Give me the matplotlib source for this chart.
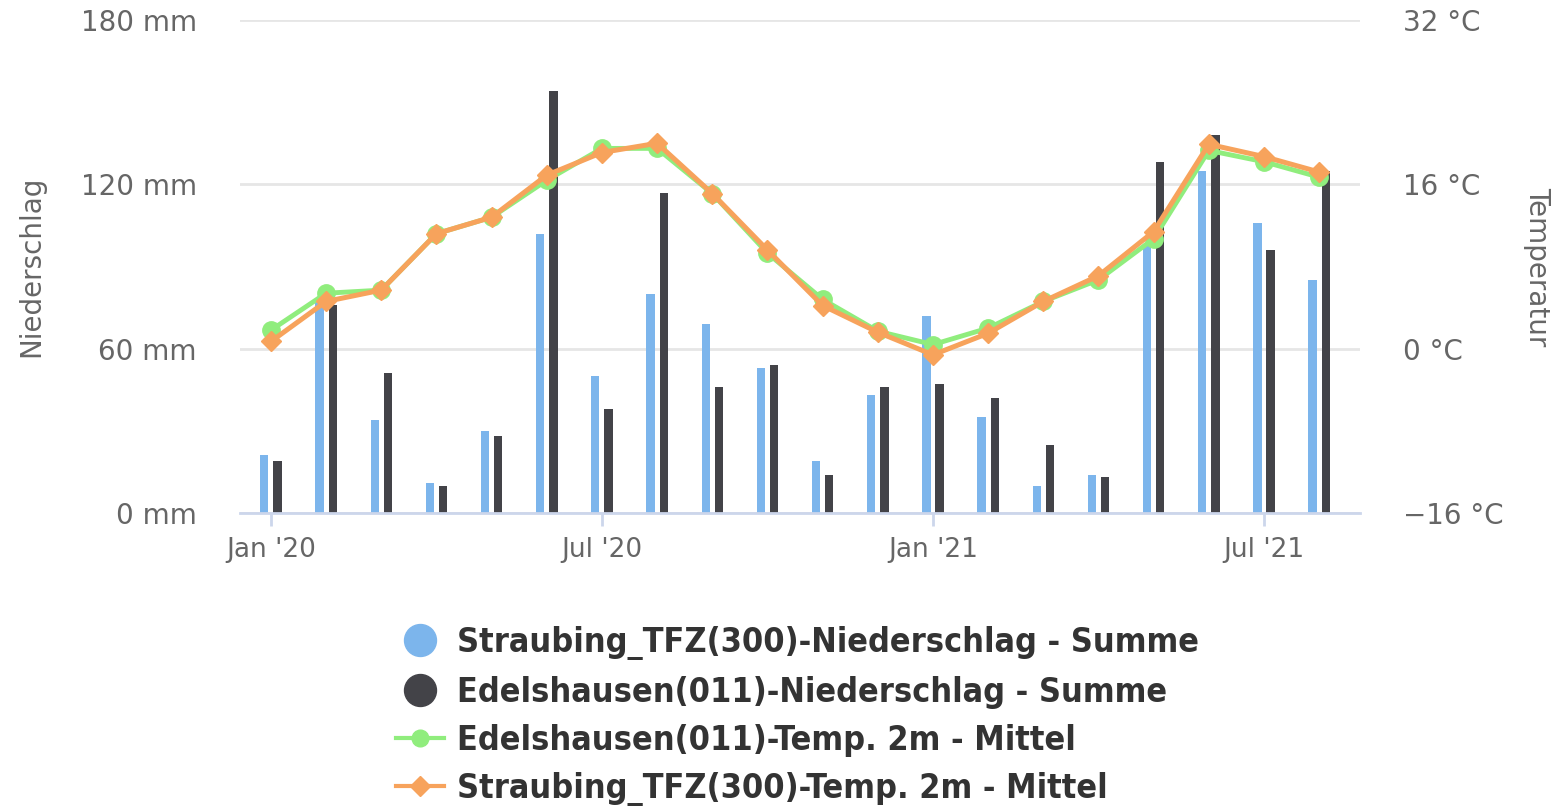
import matplotlib
matplotlib.use("Agg")
import matplotlib.pyplot as plt
import numpy as np
from matplotlib.lines import Line2D

# Monatswerte Jan '20 .. Aug '21
months = ["Jan '20", "Feb '20", "Mar '20", "Apr '20", "May '20", "Jun '20",
          "Jul '20", "Aug '20", "Sep '20", "Oct '20", "Nov '20", "Dec '20",
          "Jan '21", "Feb '21", "Mar '21", "Apr '21", "May '21", "Jun '21",
          "Jul '21", "Aug '21"]
tick_labels = ["Jan '20", "Jul '20", "Jan '21", "Jul '21"]
tick_idx = [0, 6, 12, 18]

rain_straubing = [21, 77, 34, 11, 30, 102, 50, 80, 69, 53,
                  19, 43, 72, 35, 10, 14, 98, 125, 106, 85]
rain_edelshausen = [19, 76, 51, 10, 28, 154, 38, 117, 46, 54,
                    14, 46, 47, 42, 25, 13, 128, 138, 96, 125]
temp_edelshausen = [1.8, 5.4, 5.7, 11.2, 12.8, 16.4, 19.5, 19.5, 15.1, 9.3,
                    4.8, 1.7, 0.4, 2.0, 4.6, 6.7, 10.7, 19.3, 18.2, 16.7]
temp_straubing = [0.7, 4.6, 5.7, 11.2, 12.8, 16.9, 19.1, 20.0, 15.1, 9.6,
                  4.2, 1.6, -0.6, 1.5, 4.6, 7.1, 11.4, 19.9, 18.7, 17.2]

BLUE = "#7cb5ec"
DARK = "#434348"
GREEN = "#90ed7d"
ORANGE = "#f7a35c"
GREY = "#666666"

fig = plt.figure(figsize=(15.55, 8.07), dpi=100)
ax = fig.add_axes([0.1543, 0.3643, 0.7203, 0.6109])
ax2 = ax.twinx()

x = np.arange(len(months))
w = 0.15
off = 0.12
ax.bar(x - off, rain_straubing, width=w, color=BLUE, zorder=2)
ax.bar(x + off, rain_edelshausen, width=w, color=DARK, zorder=2)

ax2.plot(x, temp_edelshausen, color=GREEN, lw=3.5, marker="o", ms=12.5, zorder=3)
ax2.plot(x, temp_straubing, color=ORANGE, lw=3.6, marker="D", ms=10.5, zorder=4)

ax.set_xlim(-0.562, 19.74)
ax.set_ylim(0, 180)
ax2.set_ylim(-16, 32)
ax.set_yticks([0, 60, 120, 180])
ax.set_yticklabels([f"{v} mm" for v in (0, 60, 120, 180)])
ax2.set_yticks([-16, 0, 16, 32])
ax2.set_yticklabels(["\u221216 °C", "0 °C", "16 °C", "32 °C"])
ax.set_xticks(tick_idx)
ax.set_xticklabels(tick_labels)

ax.grid(axis="y", color="#e6e6e6", lw=2, zorder=0)
ax.set_axisbelow(True)
for a in (ax, ax2):
    for s in ("top", "left", "right", "bottom"):
        a.spines[s].set_visible(False)
ax.spines["bottom"].set_visible(True)
ax.spines["bottom"].set_color("#ccd6eb")
ax.spines["bottom"].set_linewidth(2)

ax.tick_params(axis="x", colors="#ccd6eb", length=9, width=2, pad=8,
               labelcolor=GREY, labelsize=19)
ax.tick_params(axis="y", length=0, pad=31, labelcolor=GREY, labelsize=20)
ax2.tick_params(axis="y", length=0, pad=31, labelcolor=GREY, labelsize=20)

ax.set_ylabel("Niederschlag", color=GREY, fontsize=20, va="center")
ax2.set_ylabel("Temperatur", color=GREY, fontsize=20, rotation=270, va="center")
ax.yaxis.set_label_coords(-0.186, 0.5)
ax2.yaxis.set_label_coords(1.158, 0.5)

handles = [
    Line2D([], [], color=BLUE, marker="o", ms=23, lw=0),
    Line2D([], [], color=DARK, marker="o", ms=23, lw=0),
    Line2D([], [], color=GREEN, marker="o", ms=12, lw=3),
    Line2D([], [], color=ORANGE, marker="D", ms=10, lw=3),
]
labels = ["Straubing_TFZ(300)-Niederschlag - Summe",
          "Edelshausen(011)-Niederschlag - Summe",
          "Edelshausen(011)-Temp. 2m - Mittel",
          "Straubing_TFZ(300)-Temp. 2m - Mittel"]
leg = fig.legend(handles, labels, loc="upper left", bbox_to_anchor=(0.235, 0.262),
                 frameon=False, handlelength=1.4, handletextpad=0.4,
                 labelspacing=0.45,
                 prop={"family": "DejaVu Sans", "stretch": "condensed",
                       "weight": "bold", "size": 24.5})
for t in leg.get_texts():
    t.set_color("#333333")

fig.savefig("out.png", dpi=100)
